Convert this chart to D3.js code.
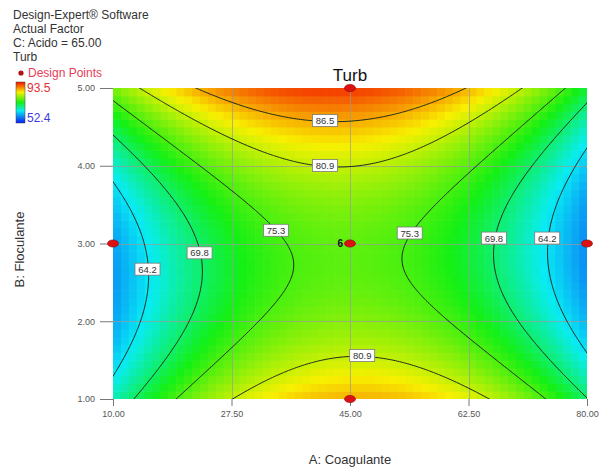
<!DOCTYPE html>
<html>
<head>
<meta charset="utf-8">
<script src="https://cdn.jsdelivr.net/npm/d3@7"></script>
<style>
  body { margin: 0; background: #fff; }
  svg { display: block; }
  text { font-family: Arial, "Liberation Sans", sans-serif; }
</style>
</head>
<body>
<svg id="chart" width="602" height="467"></svg>
<script>
// Factor ranges and tick values
const coagulanteDomain = [10, 80];
const floculanteDomain = [1, 5];
const coagulanteTicks = [10, 27.5, 45, 62.5, 80];
const floculanteTicks = [1, 2, 3, 4, 5];

// Fitted model for Turb in coded factors (C: Acido held at 65.00)
const modelTerms = ["Intercept", "A", "B", "AB", "A^2", "B^2", "A^2B", "A^2B^2"];
const modelCoefficients = [76.33, -0.69, 2.77, -2.2, -16.77, 12.66, 0.34, -0.67];

// Observed response range and contour levels
const responseRange = [52.4, 93.5];
const contourLevels = [64.2, 69.8, 75.3, 80.9, 86.5];

// Design points (A, B) and replicate counts
const designA = [45, 45, 10, 80, 45];
const designB = [5, 1, 3, 3, 3];
const designReps = [1, 1, 1, 1, 6];

const infoLines = ["Design-Expert\u00AE Software", "Actual Factor", "C: Acido = 65.00", "Turb"];

// ---------------------------------------------------------------------------
const svg = d3.select("#chart");
const plot = { left: 113, right: 587, top: 88, bottom: 399 };

const x = d3.scaleLinear().domain(coagulanteDomain).range([plot.left, plot.right]);
const y = d3.scaleLinear().domain(floculanteDomain).range([plot.bottom, plot.top]);

const coded = (v, dom) => (v - (dom[0] + dom[1]) / 2) / ((dom[1] - dom[0]) / 2);

function turb(a, b) {
  const xa = coded(a, coagulanteDomain), xb = coded(b, floculanteDomain);
  const terms = [1, xa, xb, xa * xb, xa * xa, xb * xb, xa * xa * xb, xa * xa * xb * xb];
  return d3.sum(terms, (t, i) => t * modelCoefficients[i]);
}

// Rainbow colour map over the observed response range
const [rMin, rMax] = responseRange;
const color = d3.scaleLinear()
  .domain([0, 0.3, 0.5, 0.75, 1].map(t => rMin + t * (rMax - rMin)))
  .range(["#0a1cf5", "#08ecf4", "#14f014", "#f8f000", "#f41000"])
  .clamp(true);

const defs = svg.append("defs");
defs.append("clipPath").attr("id", "plotClip")
  .append("rect")
  .attr("x", plot.left).attr("y", plot.top)
  .attr("width", plot.right - plot.left).attr("height", plot.bottom - plot.top);

// Coloured response cells
const nx = 60, ny = 40;
const [a0, a1] = coagulanteDomain, [b0, b1] = floculanteDomain;
const cells = d3.cross(d3.range(nx), d3.range(ny)).map(([i, j]) => {
  const aL = a0 + i * (a1 - a0) / nx, aR = a0 + (i + 1) * (a1 - a0) / nx;
  const bL = b0 + j * (b1 - b0) / ny, bH = b0 + (j + 1) * (b1 - b0) / ny;
  return { aL, aR, bL, bH, v: turb((aL + aR) / 2, (bL + bH) / 2) };
});

const cellLayer = svg.append("g").attr("clip-path", "url(#plotClip)");
cellLayer.selectAll("rect").data(cells).join("rect")
  .attr("x", d => x(d.aL))
  .attr("y", d => y(d.bH))
  .attr("width", d => x(d.aR) - x(d.aL) + 0.6)
  .attr("height", d => y(d.bL) - y(d.bH) + 0.6)
  .attr("fill", d => color(d.v));

// Grid lines at the tick positions
const gridLayer = svg.append("g").attr("stroke", "#9a9a9a").attr("stroke-opacity", 0.7).attr("stroke-width", 1);
gridLayer.selectAll("line.gx").data(coagulanteTicks.slice(1, -1)).join("line")
  .attr("x1", d => Math.round(x(d)) + 0.5).attr("x2", d => Math.round(x(d)) + 0.5)
  .attr("y1", plot.top).attr("y2", plot.bottom);
gridLayer.selectAll("line.gy").data(floculanteTicks.slice(1, -1)).join("line")
  .attr("y1", d => Math.round(y(d)) + 0.5).attr("y2", d => Math.round(y(d)) + 0.5)
  .attr("x1", plot.left).attr("x2", plot.right);

// Contour lines from a fine sample grid padded past the plot edges
const pad = 4, n = 240, m = 160;
const dA = (a1 - a0) / (n - 1), dB = (b1 - b0) / (m - 1);
const gw = n + 2 * pad, gh = m + 2 * pad;
const values = new Array(gw * gh);
for (let j = 0; j < gh; j++) {
  const b = b1 - (j - pad) * dB;
  for (let i = 0; i < gw; i++) {
    values[j * gw + i] = turb(a0 + (i - pad) * dA, b);
  }
}
const contours = d3.contours().size([gw, gh]).thresholds(contourLevels)(values);
const gridProjection = d3.geoTransform({
  point(px, py) { this.stream.point(x(a0 + (px - pad) * dA), y(b1 - (py - pad) * dB)); }
});
const contourPath = d3.geoPath(gridProjection);

svg.append("g").attr("clip-path", "url(#plotClip)")
  .selectAll("path").data(contours).join("path")
  .attr("d", contourPath)
  .attr("fill", "none")
  .attr("stroke", "#1c2a1c")
  .attr("stroke-width", 1);

// Contour labels, placed where each level crosses a chosen line
const labelPlacements = [
  { level: 86.5, fix: "A", at: 41.3, range: [3, 5] },
  { level: 80.9, fix: "A", at: 41.3, range: [3, 5] },
  { level: 80.9, fix: "A", at: 46.8, range: [1, 3] },
  { level: 75.3, fix: "B", at: 3.17, range: [10, 45] },
  { level: 75.3, fix: "B", at: 3.135, range: [45, 80] },
  { level: 69.8, fix: "B", at: 2.88, range: [10, 45] },
  { level: 69.8, fix: "B", at: 3.07, range: [45, 80] },
  { level: 64.2, fix: "B", at: 2.67, range: [10, 45] },
  { level: 64.2, fix: "B", at: 3.07, range: [45, 80] }
];

function solveLevel(p) {
  const f = t => (p.fix === "A" ? turb(p.at, t) : turb(t, p.at)) - p.level;
  let [lo, hi] = p.range;
  let flo = f(lo);
  for (let k = 0; k < 60; k++) {
    const mid = (lo + hi) / 2, fm = f(mid);
    if ((fm < 0) === (flo < 0)) { lo = mid; flo = fm; } else { hi = mid; }
  }
  const t = (lo + hi) / 2;
  return p.fix === "A" ? { a: p.at, b: t, level: p.level } : { a: t, b: p.at, level: p.level };
}
const labelPoints = labelPlacements.map(solveLevel);

const labelG = svg.append("g").selectAll("g").data(labelPoints).join("g")
  .attr("transform", d => `translate(${x(d.a)},${y(d.b)})`);
labelG.append("rect")
  .attr("x", -12.5).attr("y", -6).attr("width", 25).attr("height", 12)
  .attr("fill", "#fff").attr("stroke", "#7a7a7a").attr("stroke-width", 0.8);
labelG.append("text")
  .attr("text-anchor", "middle").attr("y", 3.5)
  .attr("font-size", 9.5).attr("fill", "#333")
  .text(d => d3.format(".1f")(d.level));

// Axes
const axisColor = "#777";
const yAxis = svg.append("g").attr("transform", `translate(${plot.left},0)`)
  .call(d3.axisLeft(y).tickValues(floculanteTicks).tickFormat(d3.format(".2f")).tickSize(13).tickPadding(5));
const xAxis = svg.append("g").attr("transform", `translate(0,${plot.bottom})`)
  .call(d3.axisBottom(x).tickValues(coagulanteTicks).tickFormat(d3.format(".2f")).tickSize(7).tickPadding(5));
[xAxis, yAxis].forEach(g => {
  g.select(".domain").remove();
  g.selectAll(".tick line").attr("stroke", axisColor);
  g.selectAll(".tick text").attr("font-size", 9).attr("fill", "#555")
    .attr("font-family", "Arial, 'Liberation Sans', sans-serif");
});

// Design points
const designPoints = designA.map((a, i) => ({ a, b: designB[i], r: designReps[i] }));
svg.append("g").selectAll("ellipse").data(designPoints)
  .join("ellipse")
  .attr("cx", d => x(d.a)).attr("cy", d => y(d.b))
  .attr("rx", 5.5).attr("ry", 3.6)
  .attr("fill", "#dd1111").attr("stroke", "#8a0000").attr("stroke-width", 0.6);
svg.append("g").selectAll("text").data(designPoints.filter(d => d.r > 1))
  .join("text")
  .attr("x", d => x(d.a) - 7).attr("y", d => y(d.b) + 3.5)
  .attr("text-anchor", "end").attr("font-size", 10).attr("font-weight", "bold").attr("fill", "#111")
  .text(d => d.r);

// Titles
svg.append("text").attr("x", (plot.left + plot.right) / 2).attr("y", 81)
  .attr("text-anchor", "middle").attr("font-size", 17).attr("fill", "#111").text("Turb");
svg.append("text").attr("x", (plot.left + plot.right) / 2).attr("y", 464)
  .attr("text-anchor", "middle").attr("font-size", 13).attr("fill", "#333").text("A: Coagulante");
svg.append("text").attr("transform", `translate(24,${(plot.top + plot.bottom) / 2 + 6}) rotate(-90)`)
  .attr("text-anchor", "middle").attr("font-size", 13).attr("fill", "#333").text("B: Floculante");

// Info block
svg.append("g").selectAll("text").data(infoLines).join("text")
  .attr("x", 13).attr("y", (d, i) => 19 + i * 14)
  .attr("font-size", 12).attr("fill", "#333").text(d => d);

// Legend: design points marker and colour bar
svg.append("circle").attr("cx", 21).attr("cy", 73).attr("r", 2.6).attr("fill", "#b01010");
svg.append("text").attr("x", 28).attr("y", 77).attr("font-size", 12).attr("fill", "#e8405a").text("Design Points");

const grad = defs.append("linearGradient").attr("id", "legendGrad")
  .attr("x1", 0).attr("y1", 1).attr("x2", 0).attr("y2", 0);
grad.selectAll("stop").data(color.domain()).join("stop")
  .attr("offset", d => (d - rMin) / (rMax - rMin))
  .attr("stop-color", d => color(d));
svg.append("rect").attr("x", 16).attr("y", 82).attr("width", 9).attr("height", 41)
  .attr("fill", "url(#legendGrad)").attr("stroke", "#444").attr("stroke-width", 0.5);
svg.append("text").attr("x", 27).attr("y", 92).attr("font-size", 12).attr("fill", "#e03030")
  .text(d3.format(".1f")(rMax));
svg.append("text").attr("x", 27).attr("y", 122).attr("font-size", 12).attr("fill", "#3a3ae0")
  .text(d3.format(".1f")(rMin));
</script>
</body>
</html>
